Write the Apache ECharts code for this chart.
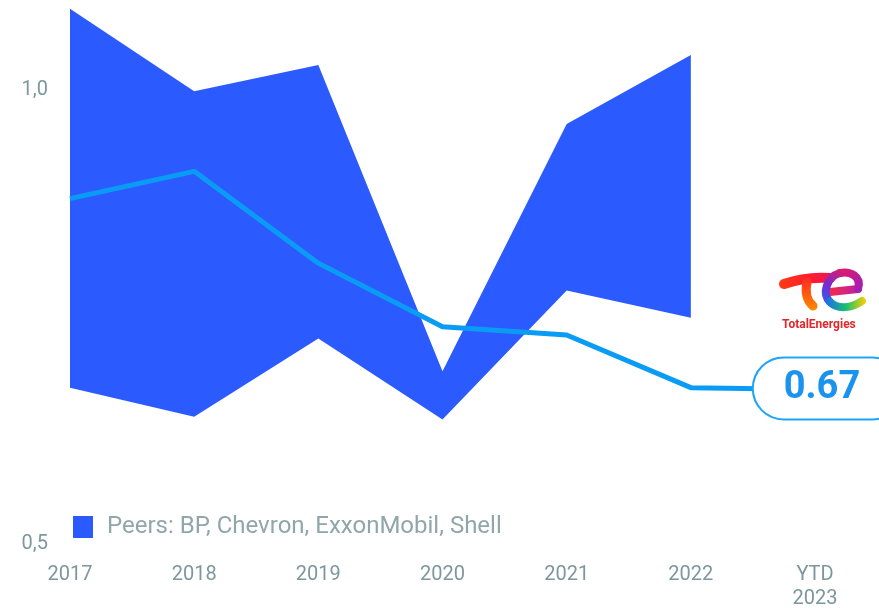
<!DOCTYPE html>
<html>
<head>
<meta charset="utf-8">
<script src="https://cdn.jsdelivr.net/npm/echarts@6/dist/echarts.min.js"></script>
<style>
  html, body { margin: 0; padding: 0; background: #ffffff; }
  #chart { width: 879px; height: 611px; }
</style>
</head>
<body>
<div id="chart"></div>
<script>
// Years on the horizontal axis
const categories = ['2017', '2018', '2019', '2020', '2021', '2022', 'YTD\n2023'];
// Peer range (lowest and highest value among BP, Chevron, ExxonMobil, Shell)
const peersLow  = [0.672, 0.640, 0.726, 0.637, 0.779, 0.749, null];
const peersHigh = [1.089, 0.998, 1.027, 0.690, 0.962, 1.038, null];
// TotalEnergies
const totalValues = [0.880, 0.910, 0.809, 0.739, 0.730, 0.672, 0.67];
// Value axis ticks
const yTicks = [0.5, 1.0];

const peersName = 'Peers: BP, Chevron, ExxonMobil, Shell';
const bandColor = '#2b5bff';
const lineColor = '#0a9cf5';
const axisText = '#7d979d';

const bandSpan = peersHigh.map((h, i) => (h == null || peersLow[i] == null) ? null : +(h - peersLow[i]).toFixed(3));

const lastIdx = totalValues.length - 1;
const lineData = totalValues.map((v, i) => i === lastIdx ? {
  value: v,
  label: {
    show: true,
    position: 'inside',
    offset: [13, -1],
    formatter: () => v.toFixed(2),
    color: '#1a93ee',
    fontFamily: 'Roboto',
    fontWeight: 'bold',
    fontSize: 38,
    lineHeight: 40,
    backgroundColor: '#ffffff',
    borderColor: '#1ea4f5',
    borderWidth: 2,
    borderRadius: 31,
    padding: [10, 42, 10, 30]
  }
} : v);

function grad(x0, y0, x1, y1, stops) {
  return {
    type: 'linear', x: x0, y: y0, x2: x1, y2: y1,
    colorStops: stops.map(s => ({ offset: s[0], color: s[1] }))
  };
}

function stroke(width, color) {
  return { fill: null, stroke: color, lineWidth: width, lineCap: 'round', lineJoin: 'round' };
}

const chart = echarts.init(document.getElementById('chart'), null, { renderer: 'canvas' });

chart.setOption({
  animation: false,
  textStyle: { fontFamily: 'Roboto' },
  grid: { left: 70, right: 64, top: 0, bottom: 64, containLabel: false },
  legend: {
    data: [{ name: peersName, icon: 'rect' }],
    left: 68,
    top: 510,
    itemWidth: 20,
    itemHeight: 22,
    textStyle: { color: '#91a6ab', fontSize: 24, fontFamily: 'Roboto', padding: [0, 0, 0, 9] }
  },
  xAxis: {
    type: 'category',
    data: categories,
    boundaryGap: false,
    axisLine: { show: false },
    axisTick: { show: false },
    axisLabel: {
      color: axisText,
      fontSize: 20,
      lineHeight: 24,
      margin: 19,
      verticalAlign: 'top',
      interval: 0
    }
  },
  yAxis: {
    type: 'value',
    min: 0.5,
    max: 1.0985,
    interval: 0.5,
    axisLine: { show: false },
    axisTick: { show: false },
    splitLine: { show: false },
    axisLabel: {
      color: axisText,
      fontSize: 20,
      margin: 22,
      showMaxLabel: false,
      formatter: (v) => yTicks.some(t => Math.abs(t - v) < 1e-6) ? v.toFixed(1).replace('.', ',') : ''
    }
  },
  series: [
    {
      name: 'peersLow',
      type: 'line',
      stack: 'peers',
      data: peersLow,
      symbol: 'none',
      lineStyle: { width: 0, opacity: 0 },
      silent: true,
      z: 1
    },
    {
      name: peersName,
      type: 'line',
      stack: 'peers',
      data: bandSpan,
      symbol: 'none',
      itemStyle: { color: bandColor },
      lineStyle: { width: 0, opacity: 0 },
      areaStyle: { color: bandColor, opacity: 1 },
      z: 2
    },
    {
      name: 'TotalEnergies',
      type: 'line',
      data: lineData,
      symbol: 'circle',
      symbolSize: 0.1,
      showSymbol: true,
      itemStyle: { color: lineColor },
      lineStyle: { color: lineColor, width: 5 },
      z: 5
    }
  ],
  graphic: [
    {
      type: 'group',
      x: 780,
      y: 268,
      children: [
        // T: crossbar
        {
          type: 'bezierCurve',
          shape: { x1: 4, y1: 16, cpx1: 18, cpy1: 11, cpx2: 36, cpy2: 9, x2: 50, y2: 10 },
          style: stroke(10, grad(0, 0, 1, 0, [[0, '#ff3a12'], [0.6, '#ff1a30'], [1, '#e8155a']]))
        },
        // T: stem
        {
          type: 'bezierCurve',
          shape: { x1: 27, y1: 14, cpx1: 25, cpy1: 24, cpx2: 26, cpy2: 32, x2: 33, y2: 38 },
          style: stroke(9, grad(0, 0, 0, 1, [[0, '#ff2a22'], [1, '#ff8a00']]))
        },
        // e: middle bar
        {
          type: 'line',
          shape: { x1: 50, y1: 24, x2: 78, y2: 21 },
          style: stroke(8, grad(0, 0, 1, 0, [[0, '#ff2a40'], [1, '#b21fb0']]))
        },
        // e: top right
        {
          type: 'bezierCurve',
          shape: { x1: 78, y1: 21, cpx1: 82, cpy1: 8, cpx2: 70, cpy2: 3, x2: 60, y2: 5 },
          style: stroke(8, grad(1, 1, 0, 0, [[0, '#9a1fc0'], [1, '#e81860']]))
        },
        // e: left side
        {
          type: 'bezierCurve',
          shape: { x1: 60, y1: 5, cpx1: 46, cpy1: 9, cpx2: 42, cpy2: 26, x2: 50, y2: 34 },
          style: stroke(8, grad(1, 0, 0, 1, [[0, '#e81860'], [0.5, '#7a2ad0'], [1, '#1c6cf0']]))
        },
        // e: bottom tail
        {
          type: 'bezierCurve',
          shape: { x1: 50, y1: 34, cpx1: 58, cpy1: 42, cpx2: 72, cpy2: 40, x2: 82, y2: 33 },
          style: stroke(8, grad(0, 0, 1, 0, [[0, '#1c6cf0'], [0.5, '#18c070'], [1, '#ffd000']]))
        },
        {
          type: 'text',
          x: 2,
          y: 51,
          style: {
            text: 'TotalEnergies',
            fill: '#e3262b',
            font: 'bold 12px Roboto'
          }
        }
      ]
    }
  ]
});
</script>
</body>
</html>
